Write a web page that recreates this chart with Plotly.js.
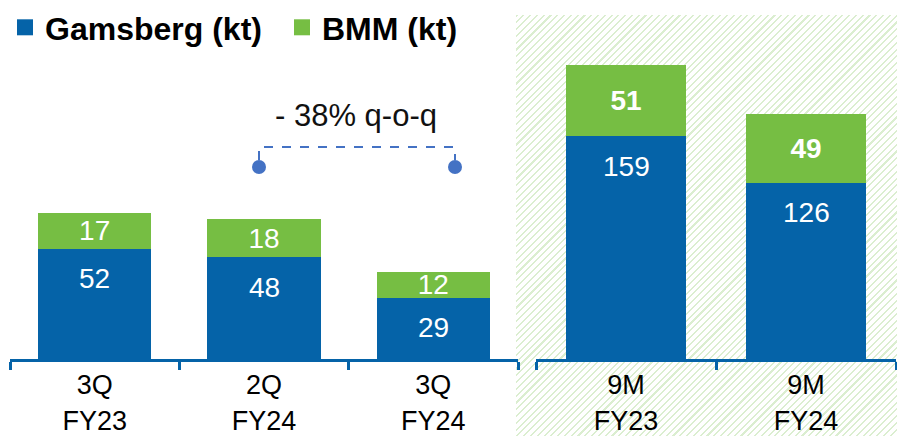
<!DOCTYPE html>
<html>
<head>
<meta charset="utf-8">
<script src="https://cdn.plot.ly/plotly-3.0.1.min.js"></script>
<style>
  html, body { margin: 0; padding: 0; background: #ffffff; }
  #wrap { position: relative; width: 897px; height: 436px; overflow: hidden; }
  #hatch {
    position: absolute; left: 516px; top: 15px; width: 381px; height: 421px;
    background: repeating-linear-gradient(135deg, #dbeed0 0px, #dbeed0 1.5px, #ffffff 1.5px, #ffffff 4.8px);
  }
  #chart { position: absolute; left: 0; top: 0; width: 897px; height: 436px; }
</style>
</head>
<body>
<div id="wrap">
  <div id="hatch"></div>
  <div id="chart"></div>
</div>
<script>
// ---- data ----
const quarterCats = ['3Q<br>FY23', '2Q<br>FY24', '3Q<br>FY24'];
const quarterGamsberg = [52, 48, 29];
const quarterBMM = [17, 18, 12];

const ytdCats = ['9M<br>FY23', '9M<br>FY24'];
const ytdGamsberg = [159, 126];
const ytdBMM = [51, 49];

const seriesNames = ['Gamsberg (kt)', 'BMM (kt)'];
const qoqLabel = '- 38% q-o-q';

// ---- styles ----
const BLUE = '#0563a8';
const GREEN = '#76be43';
const FONT = '"Liberation Sans", Arial, sans-serif';
const W = 897, H = 436;
const px = v => v / W;
const py = v => 1 - v / H;

const traces = [
  {
    type: 'bar', name: seriesNames[0], x: quarterCats, y: quarterGamsberg,
    xaxis: 'x', yaxis: 'y', marker: { color: BLUE }, hoverinfo: 'skip'
  },
  {
    type: 'bar', name: seriesNames[1], x: quarterCats, y: quarterBMM,
    xaxis: 'x', yaxis: 'y', marker: { color: GREEN }, hoverinfo: 'skip',
    text: quarterBMM.map(String), textposition: 'inside', insidetextanchor: 'middle',
    textangle: 0, constraintext: 'none',
    textfont: { color: '#ffffff', size: 28, family: FONT }
  },
  {
    type: 'bar', name: seriesNames[0], x: ytdCats, y: ytdGamsberg,
    xaxis: 'x2', yaxis: 'y2', marker: { color: BLUE }, hoverinfo: 'skip', showlegend: false
  },
  {
    type: 'bar', name: seriesNames[1], x: ytdCats, y: ytdBMM,
    xaxis: 'x2', yaxis: 'y2', marker: { color: GREEN }, hoverinfo: 'skip', showlegend: false,
    text: ytdBMM.map(String), textposition: 'inside', insidetextanchor: 'middle',
    textangle: 0, constraintext: 'none',
    textfont: { color: '#ffffff', size: 28, family: FONT, weight: 'bold' }
  }
];

// Gamsberg value labels sit a fixed distance below the top of the blue segment
const annotations = [];
quarterCats.forEach((c, i) => annotations.push({
  x: c, y: quarterGamsberg[i], xref: 'x', yref: 'y', yshift: -30, showarrow: false,
  xanchor: 'center', yanchor: 'middle',
  text: String(quarterGamsberg[i]), font: { color: '#ffffff', size: 28, family: FONT }
}));
ytdCats.forEach((c, i) => annotations.push({
  x: c, y: ytdGamsberg[i], xref: 'x2', yref: 'y2', yshift: -30, showarrow: false,
  xanchor: 'center', yanchor: 'middle',
  text: String(ytdGamsberg[i]), font: { color: '#ffffff', size: 28, family: FONT }
}));
annotations.push({
  x: px(356), y: py(116), xref: 'paper', yref: 'paper', showarrow: false,
  xanchor: 'center', yanchor: 'middle',
  text: qoqLabel, font: { color: '#111111', size: 31, family: FONT }
});

const BR = '#4472c4';
const shapes = [
  {
    type: 'path', xref: 'paper', yref: 'paper',
    path: `M ${px(259)},${py(160)} L ${px(259)},${py(147)} L ${px(455)},${py(147)} L ${px(455)},${py(160)}`,
    line: { color: BR, width: 2, dash: 'dash' }
  },
  {
    type: 'circle', xref: 'paper', yref: 'paper',
    x0: px(252), x1: px(266), y0: py(174), y1: py(160),
    fillcolor: BR, line: { width: 0 }
  },
  {
    type: 'circle', xref: 'paper', yref: 'paper',
    x0: px(448), x1: px(462), y0: py(174), y1: py(160),
    fillcolor: BR, line: { width: 0 }
  }
];

const baseY = 359;
const xCommon = {
  type: 'category', showgrid: false, zeroline: false,
  showline: true, linecolor: BLUE, linewidth: 3,
  ticks: 'outside', tickson: 'boundaries', ticklen: 8, tickwidth: 3, tickcolor: BLUE,
  tickfont: { size: 27, color: '#000000', family: FONT }, fixedrange: true
};
const yCommon = {
  showgrid: false, zeroline: false, showline: false, showticklabels: false,
  ticks: '', fixedrange: true
};

const layout = {
  width: W, height: H,
  margin: { l: 0, r: 0, t: 0, b: 0, pad: 0 },
  paper_bgcolor: 'rgba(0,0,0,0)', plot_bgcolor: 'rgba(0,0,0,0)',
  barmode: 'stack', bargap: 0.33,
  font: { family: FONT },
  showlegend: true,
  legend: {
    orientation: 'h', x: px(5), xanchor: 'left', y: 1, yanchor: 'top',
    traceorder: 'normal', itemwidth: 30, entrywidth: 232,
    itemclick: false, itemdoubleclick: false,
    font: { size: 32, color: '#000000', family: FONT, weight: 'bold' },
    bgcolor: 'rgba(0,0,0,0)'
  },
  xaxis: Object.assign({}, xCommon, { domain: [px(10), px(518)], anchor: 'y', range: [-0.5, 2.5] }),
  yaxis: Object.assign({}, yCommon, { domain: [py(baseY), 1], anchor: 'x', range: [0, baseY / 2.12] }),
  xaxis2: Object.assign({}, xCommon, { domain: [px(536), px(896)], anchor: 'y2', range: [-0.5, 1.5] }),
  yaxis2: Object.assign({}, yCommon, { domain: [py(baseY), 1], anchor: 'x2', range: [0, baseY / 1.40] }),
  annotations: annotations,
  shapes: shapes
};

Plotly.newPlot('chart', traces, layout, { displayModeBar: false, staticPlot: true }).then(gd => {
  // enlarge the legend swatches to match the reference's bigger squares
  gd.querySelectorAll('.legend .legendpoints path').forEach(p => p.setAttribute('d', 'M8,8H-8V-8H8Z'));
});
</script>
</body>
</html>
